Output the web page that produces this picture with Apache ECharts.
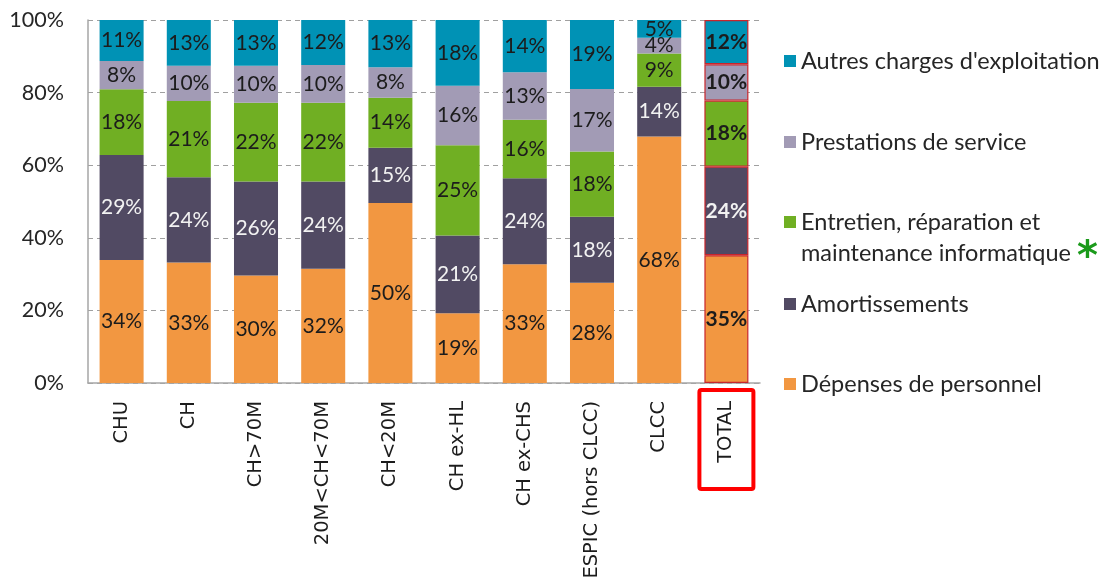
<!DOCTYPE html>
<html>
<head>
<meta charset="utf-8">
<script src="https://cdn.jsdelivr.net/npm/echarts@6/dist/echarts.min.js"></script>
<style>
html,body{margin:0;padding:0;background:#fff;}
#c{width:1107px;height:578px;}
</style>
</head>
<body>
<div id="c"></div>
<script>
const categories = ['CHU','CH','CH>70M','20M<CH<70M','CH<20M','CH ex-HL','CH ex-CHS','ESPIC (hors CLCC)','CLCC','TOTAL'];
const personnel   = [33.9,33.2,29.6,31.5,49.6,19.2,32.7,27.6,67.9,35.2];
const amort       = [28.9,23.5,25.9,24.0,15.2,21.4,23.7,18.2,13.7,24.4];
const entretien   = [18.1,21.0,21.7,21.7,13.8,24.9,16.1,18.0,9.2,18.2];
const prestations = [7.8,9.7,10.2,10.4,8.4,16.4,13.1,17.2,4.3,10.0];
const autres      = [11.3,12.6,12.6,12.4,13.0,18.1,14.4,19.0,4.9,12.2];
const yTicks = [0,20,40,60,80,100];

const seriesNames = ['Dépenses de personnel','Amortissements','Entretien, réparation et maintenance informatique','Prestations de service',"Autres charges d'exploitation"];
const seriesData = [personnel, amort, entretien, prestations, autres];
const colors = ['#F29741','#514A63','#70AF23','#A29BB5','#0092B5'];
const labelColors = ['#1c1c1c','#f2f2f2','#1c1c1c','#1c1c1c','#1c1c1c'];
const FONT = 'Lato';

const chart = echarts.init(document.getElementById('c'), null, {renderer:'canvas'});

const series = seriesData.map((arr, si) => ({
  name: seriesNames[si],
  type: 'bar',
  stack: 'all',
  barWidth: '65.5%',
  itemStyle: { color: colors[si] },
  label: {
    show: true,
    position: 'inside',
    fontFamily: FONT,
    fontSize: 21,
    color: labelColors[si],
    formatter: p => Math.round(p.value) + '%'
  },
  emphasis: { disabled: true },
  data: arr.map((v, i) => {
    if (categories[i] === 'TOTAL') {
      return { value: v, itemStyle: { borderColor: '#C8262C', borderWidth: 1.2 }, label: { fontWeight: 'bold' } };
    }
    return v;
  })
}));

const legendCenters = [384, 304, 238, 142, 61];
const legends = seriesNames.map((n, si) => {
  const two = si === 2;
  return {
    data: [n],
    orient: 'vertical',
    left: 784,
    top: two ? legendCenters[si] - 31 : legendCenters[si] - 14,
    padding: 0,
    itemGap: 0,
    itemWidth: 12,
    itemHeight: two ? 44 : 12,
    icon: two ? 'path://M0,0H12V12H0Z M0,43.95H0.05V44H0Z' : 'rect',
    selectedMode: false,
    textStyle: {
      fontFamily: FONT, fontSize: 23.5, color: '#262626', lineHeight: two ? 31 : 28,
      padding: [0,0,0,0],
      rich: { s: { fontFamily: 'DejaVu Sans', fontSize: 40, fontWeight: 'bold', color: '#1B9A1B', lineHeight: 31, verticalAlign: 'bottom', padding: [0,0,-10,0] } }
    },
    formatter: name => two ? 'Entretien, réparation et\nmaintenance informatique {s|*}' : name
  };
});

chart.setOption({
  animation: false,
  backgroundColor: '#ffffff',
  grid: { left: 88, right: 347, top: 20, bottom: 195, containLabel: false, outerBoundsMode: 'none' },
  legend: legends,
  xAxis: {
    type: 'category',
    data: categories,
    axisLine: { lineStyle: { color: '#A6A6A6', width: 1.5 } },
    axisTick: { show: false },
    axisLabel: {
      rotate: 90,
      interval: 0,
      margin: 18,
      fontFamily: 'DejaVu Sans',
      fontSize: 19.5,
      color: '#1c1c1c'
    }
  },
  yAxis: {
    type: 'value',
    min: 0,
    max: 100,
    interval: 20,
    axisLine: { show: true, lineStyle: { color: '#A6A6A6', width: 1.5 } },
    axisTick: { show: false },
    splitLine: { lineStyle: { color: '#A0A0A0', type: [5,4], width: 1 } },
    axisLabel: {
      margin: 24,
      fontFamily: FONT,
      fontSize: 21.5,
      color: '#262626',
      formatter: v => (yTicks.indexOf(v) >= 0 ? v + '%' : '')
    }
  },
  series: series
});

// red frame around the TOTAL axis label
const cx = chart.convertToPixel({xAxisIndex: 0}, 'TOTAL');
const y0 = chart.convertToPixel({yAxisIndex: 0}, 0);
chart.setOption({
  graphic: [{
    type: 'rect',
    shape: { x: cx - 27, y: y0 + 7, width: 54, height: 99, r: 2 },
    style: { fill: 'none', stroke: '#FF0000', lineWidth: 4 },
    silent: true
  }]
});
</script>
</body>
</html>
